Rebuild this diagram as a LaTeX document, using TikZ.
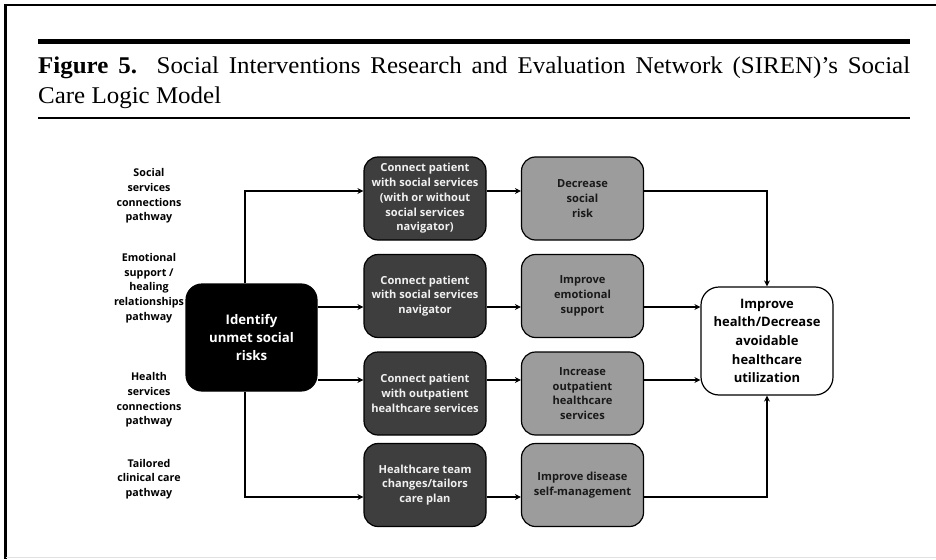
\documentclass[tikz,border=0pt]{standalone}
\usepackage{fontspec}
\setmainfont{Liberation Serif}
\newfontfamily\diagfont{Open Sans}
\newfontfamily\capfont[FakeStretch=1.04]{Liberation Serif}
\usetikzlibrary{arrows.meta}
\definecolor{darkbox}{RGB}{62,62,62}
\definecolor{greybox}{RGB}{156,156,156}
\definecolor{framegrey}{RGB}{225,225,225}
\begin{document}
\begin{tikzpicture}[x=1pt,y=-1pt]
\tikzstyle{idbox}=[rectangle,rounded corners=16pt,draw=black,fill=black,line width=1.2pt,minimum width=131pt,minimum height=107pt,text=white,align=center,font=\diagfont\bfseries\fontsize{13.2}{18}\selectfont]
\tikzstyle{action}=[rectangle,rounded corners=14pt,draw=black,fill=darkbox,line width=1.2pt,minimum width=122pt,minimum height=83pt,inner sep=1pt,text=white!94!black,align=center,font=\diagfont\bfseries\fontsize{11.1}{14.7}\selectfont]
\tikzstyle{result}=[action,fill=greybox,text=black!90]
\tikzstyle{goal}=[rectangle,rounded corners=18pt,draw=black,fill=white,line width=1.2pt,minimum width=132pt,minimum height=108pt,align=center,font=\diagfont\bfseries\fontsize{13}{18.6}\selectfont]
\tikzstyle{pathlabel}=[align=center,font=\diagfont\bfseries\fontsize{10.7}{14.7}\selectfont]
\tikzstyle{arrow}=[-{Stealth[length=6pt,width=6pt]},line width=1.2pt]

\useasboundingbox (0,0) rectangle (936,559);

% frame and caption
\draw [line width=3pt] (5,4.5) -- (5,559);
\draw [line width=2pt] (4,5.5) -- (936,5.5);
\draw [framegrey,line width=1.5pt] (6,557.5) -- (936,557.5);
\draw [line width=5pt] (38,41.5) -- (910,41.5);
\draw [line width=1.2pt] (38,118) -- (910,118);
\node [anchor=base west,inner sep=0pt,font=\capfont\fontsize{24}{29}\selectfont] at (38,74) (cap1)
  {\makebox[872pt][s]{\textbf{Figure 5.}\ \ Social Interventions Research and Evaluation Network (SIREN)’s Social}};
\node [anchor=base west,inner sep=0pt,font=\capfont\fontsize{24}{29}\selectfont] at (38,103) (cap2) {Care Logic Model};

% row levels
\coordinate (r1) at (0,191);
\coordinate (r2) at (0,307);
\coordinate (r3) at (0,380);
\coordinate (r4) at (0,497);
\coordinate (trunk) at (245,0);

% pathway labels
\node [pathlabel] at (149,196) (lab1) {Social\\services\\connections\\pathway};
\node [pathlabel] at (149,288) (lab2) {Emotional\\support /\\healing\\relationships\\pathway};
\node [pathlabel] at (149,400) (lab3) {Health\\services\\connections\\pathway};
\node [pathlabel] at (149,479) (lab4) {Tailored\\clinical care\\pathway};

\node [idbox] at (251.5,337.5) (risks) {Identify\\unmet social\\risks};

\node [action] at (425,198.5) (act1) {Connect patient\\with social services\\(with or without\\social services\\navigator)};
\node [action] at (425,296) (act2) {Connect patient\\with social services\\navigator};
\node [action] at (425,393.5) (act3) {Connect patient\\with outpatient\\healthcare services};
\node [action] at (425,485) (act4) {Healthcare team\\changes/tailors\\care plan};

\node [result] at (582.5,198.5) (res1) {Decrease\\social\\risk};
\node [result] at (582.5,296) (res2) {Improve\\emotional\\support};
\node [result] at (582.5,393.5) (res3) {Increase\\outpatient\\healthcare\\services};
\node [result] at (582.5,485) (res4) {Improve disease\\self-management};

\node [goal] at (767,341) (health) {Improve\\health/Decrease\\avoidable\\healthcare\\utilization};

% from risks to actions
\draw [arrow] (risks.north -| trunk) |- (act1.west |- r1);
\draw [arrow] (risks.east |- r2) -- (act2.west |- r2);
\draw [arrow] (risks.east |- r3) -- (act3.west |- r3);
\draw [arrow] (risks.south -| trunk) |- (act4.west |- r4);

% actions to results
\draw [arrow] (act1.east |- r1) -- (res1.west |- r1);
\draw [arrow] (act2.east |- r2) -- (res2.west |- r2);
\draw [arrow] (act3.east |- r3) -- (res3.west |- r3);
\draw [arrow] (act4.east |- r4) -- (res4.west |- r4);

% results to outcome
\draw [arrow] (res1.east |- r1) -| (health.north);
\draw [arrow] (res2.east |- r2) -- (health.west |- r2);
\draw [arrow] (res3.east |- r3) -- (health.west |- r3);
\draw [arrow] (res4.east |- r4) -| (health.south);
\end{tikzpicture}
\end{document}
